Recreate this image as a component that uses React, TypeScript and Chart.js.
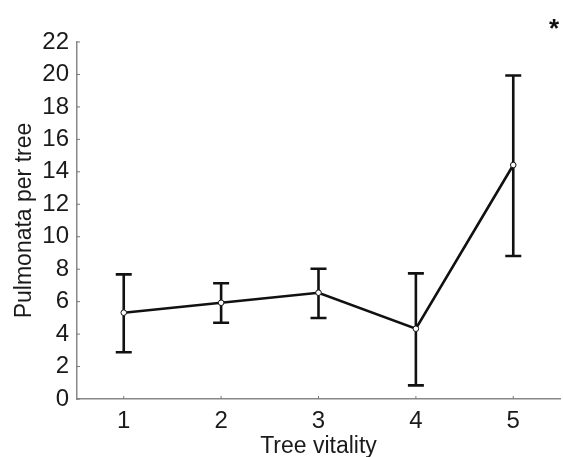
import React, { useEffect, useRef } from "react";
import { Chart, registerables } from "chart.js";

Chart.register(...registerables);

const categories = [1, 2, 3, 4, 5];
const means = [5.32, 5.93, 6.55, 4.33, 14.42];
const upper = [7.68, 7.13, 8.03, 7.74, 19.94];
const lower = [2.88, 4.7, 4.99, 0.84, 8.81];
const yTicks = [0, 2, 4, 6, 8, 10, 12, 14, 16, 18, 20, 22];

const FONT = "'Liberation Sans', Arial, sans-serif";

const errorBarPlugin = {
  id: "errorBars",
  afterDatasetsDraw(chart: any) {
    const { ctx, scales } = chart;
    const xs = scales.x;
    const ys = scales.y;
    ctx.save();
    // inward ticks
    ctx.strokeStyle = "#777";
    ctx.lineWidth = 1;
    yTicks.forEach((t) => {
      const py = ys.getPixelForValue(t);
      ctx.beginPath();
      ctx.moveTo(xs.left, py);
      ctx.lineTo(xs.left + 3, py);
      ctx.stroke();
    });
    categories.forEach((c) => {
      const px = xs.getPixelForValue(c);
      ctx.beginPath();
      ctx.moveTo(px, ys.bottom);
      ctx.lineTo(px, ys.bottom - 3);
      ctx.stroke();
    });
    // error bars
    ctx.strokeStyle = "#111";
    ctx.lineWidth = 2.6;
    categories.forEach((c, i) => {
      const px = xs.getPixelForValue(c);
      const pt = ys.getPixelForValue(upper[i]);
      const pb = ys.getPixelForValue(lower[i]);
      ctx.beginPath();
      ctx.moveTo(px, pt);
      ctx.lineTo(px, pb);
      ctx.moveTo(px - 8, pt);
      ctx.lineTo(px + 8, pt);
      ctx.moveTo(px - 8, pb);
      ctx.lineTo(px + 8, pb);
      ctx.stroke();
    });
    // redraw points on top
    ctx.fillStyle = "#fff";
    ctx.strokeStyle = "#111";
    ctx.lineWidth = 1;
    categories.forEach((c, i) => {
      const px = xs.getPixelForValue(c);
      const py = ys.getPixelForValue(means[i]);
      ctx.beginPath();
      ctx.arc(px, py, 2.8, 0, Math.PI * 2);
      ctx.fill();
      ctx.stroke();
    });
    // asterisk
    ctx.fillStyle = "#111";
    ctx.font = `bold 26px ${FONT}`;
    ctx.textAlign = "center";
    ctx.textBaseline = "middle";
    ctx.fillText("*", 554, 30);
    ctx.restore();
  },
};

export default function App() {
  const ref = useRef<HTMLCanvasElement>(null);
  useEffect(() => {
    document.body.style.margin = "0";
    const chart = new Chart(ref.current!, {
      type: "line",
      data: {
        datasets: [
          {
            data: categories.map((c, i) => ({ x: c, y: means[i] })),
            borderColor: "#111",
            borderWidth: 2.6,
            pointRadius: 0,
            tension: 0,
            fill: false,
          },
        ],
      },
      options: {
        animation: false,
        responsive: false,
        maintainAspectRatio: false,
        layout: { padding: { top: 42, right: 3, left: 0, bottom: 0 } },
        plugins: { legend: { display: false }, tooltip: { enabled: false } },
        scales: {
          x: {
            type: "linear",
            min: 0.52,
            max: 5.48,
            afterBuildTicks: (s: any) => {
              s.ticks = categories.map((v) => ({ value: v }));
            },
            afterFit: (s: any) => {
              s.height = 58;
            },
            grid: { display: false },
            border: { display: true, color: "#888", width: 1.5 },
            ticks: {
              color: "#1a1a1a",
              font: { family: FONT, size: 24 },
              padding: 0,
              maxRotation: 0,
            },
            title: {
              display: true,
              text: "Tree vitality",
              color: "#1a1a1a",
              font: { family: FONT, size: 23 },
              padding: { top: 0, bottom: -3 },
            },
          },
          y: {
            type: "linear",
            min: 0,
            max: 22,
            afterBuildTicks: (s: any) => {
              s.ticks = yTicks.map((v) => ({ value: v }));
            },
            afterFit: (s: any) => {
              s.width = 77;
            },
            grid: { display: false },
            border: { display: true, color: "#888", width: 1.5 },
            ticks: {
              color: "#1a1a1a",
              font: { family: FONT, size: 24 },
              padding: 0,
            },
            title: {
              display: true,
              text: "Pulmonata per tree",
              color: "#1a1a1a",
              font: { family: FONT, size: 23 },
              padding: { top: 11, bottom: 0 },
            },
          },
        },
      },
      plugins: [errorBarPlugin],
    });
    return () => chart.destroy();
  }, []);
  return (
    <div style={{ width: 563, height: 457, background: "#fff" }}>
      <canvas ref={ref} width={563} height={457} />
    </div>
  );
}
